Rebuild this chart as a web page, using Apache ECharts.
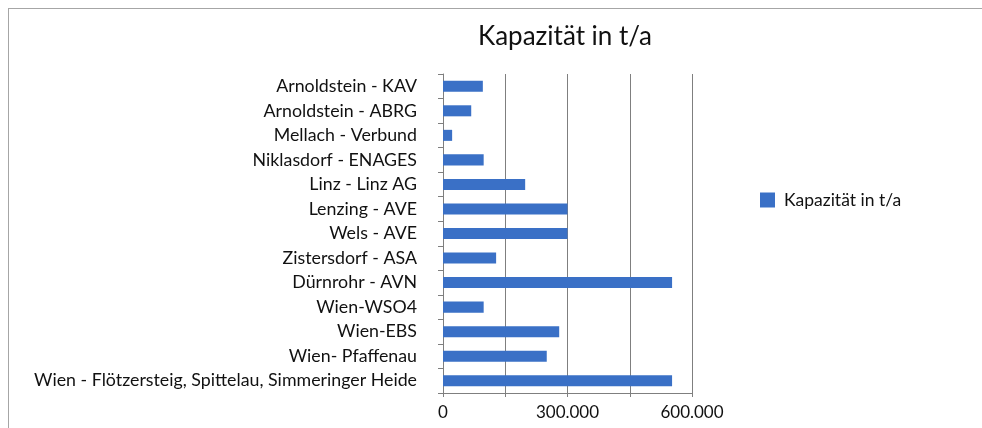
<!DOCTYPE html>
<html>
<head>
<meta charset="utf-8">
<script src="https://cdn.jsdelivr.net/npm/echarts@6/dist/echarts.min.js"></script>
<style>
  html, body { margin: 0; padding: 0; background: #fff; }
  #chart { width: 982px; height: 428px; }
</style>
</head>
<body>
<div id="chart"></div>
<script>
// categories from top to bottom, as in the picture
const categories = [
  "Arnoldstein - KAV",
  "Arnoldstein - ABRG",
  "Mellach - Verbund",
  "Niklasdorf - ENAGES",
  "Linz - Linz AG",
  "Lenzing - AVE",
  "Wels - AVE",
  "Zistersdorf - ASA",
  "Dürnrohr - AVN",
  "Wien-WSO4",
  "Wien-EBS",
  "Wien- Pfaffenau",
  "Wien - Flötzersteig, Spittelau, Simmeringer Heide",
];
const capacity = [
  96000, 68000, 22000, 98000, 198000, 300000, 300000,
  128000, 552000, 98000, 280000, 250000, 552000,
];
const tickLabels = [0, 300000, 600000];
const seriesName = "Kapazität in t/a";

const fontFamily = "Lato, 'Open Sans', sans-serif";

function formatNumber(v) {
  return String(v).replace(/\B(?=(\d{3})+(?!\d))/g, ".");
}

const myChart = echarts.init(document.getElementById("chart"));
const option = {
  color: ["#3a70c6"],
  textStyle: { fontFamily: fontFamily },
  title: {
    text: seriesName,
    left: 473,
    top: 19,
    textStyle: { fontSize: 26, fontWeight: "normal", color: "#111", fontFamily: fontFamily },
  },
  legend: {
    left: 755,
    top: 186,
    itemWidth: 15,
    itemHeight: 15,
    itemGap: 10,
    icon: "rect",
    textStyle: { fontSize: 17.5, color: "#111", fontFamily: fontFamily, padding: [0, 0, 0, 4] },
    data: [seriesName],
  },
  graphic: [
    { type: "line", shape: { x1: 8, y1: 8.5, x2: 982, y2: 8.5 }, style: { stroke: "#a6a6a6", lineWidth: 1 } },
    { type: "line", shape: { x1: 8.5, y1: 8, x2: 8.5, y2: 428 }, style: { stroke: "#a6a6a6", lineWidth: 1 } },
  ],
  grid: {
    left: 443,
    right: 290,
    top: 74,
    bottom: 35,
  },
  xAxis: {
    type: "value",
    min: 0,
    max: 600000,
    interval: 150000,
    axisLine: { show: true, lineStyle: { color: "#7f7f7f" } },
    axisTick: { show: true, length: 4, lineStyle: { color: "#7f7f7f" } },
    splitLine: { show: true, lineStyle: { color: "#7f7f7f", width: 1 } },
    axisLabel: {
      color: "#111",
      fontSize: 17,
      margin: 11,
      formatter: function (v) {
        return tickLabels.indexOf(v) >= 0 ? formatNumber(v) : "";
      },
    },
  },
  yAxis: {
    type: "category",
    inverse: true,
    data: categories,
    axisLine: { show: true, lineStyle: { color: "#7f7f7f" } },
    axisTick: { show: true, length: 5, lineStyle: { color: "#7f7f7f" } },
    axisLabel: { color: "#111", fontSize: 17.8, margin: 26 },
    splitLine: { show: false },
  },
  series: [
    {
      name: seriesName,
      type: "bar",
      barWidth: "45%",
      data: capacity,
    },
  ],
};

myChart.setOption(option);
</script>
</body>
</html>
